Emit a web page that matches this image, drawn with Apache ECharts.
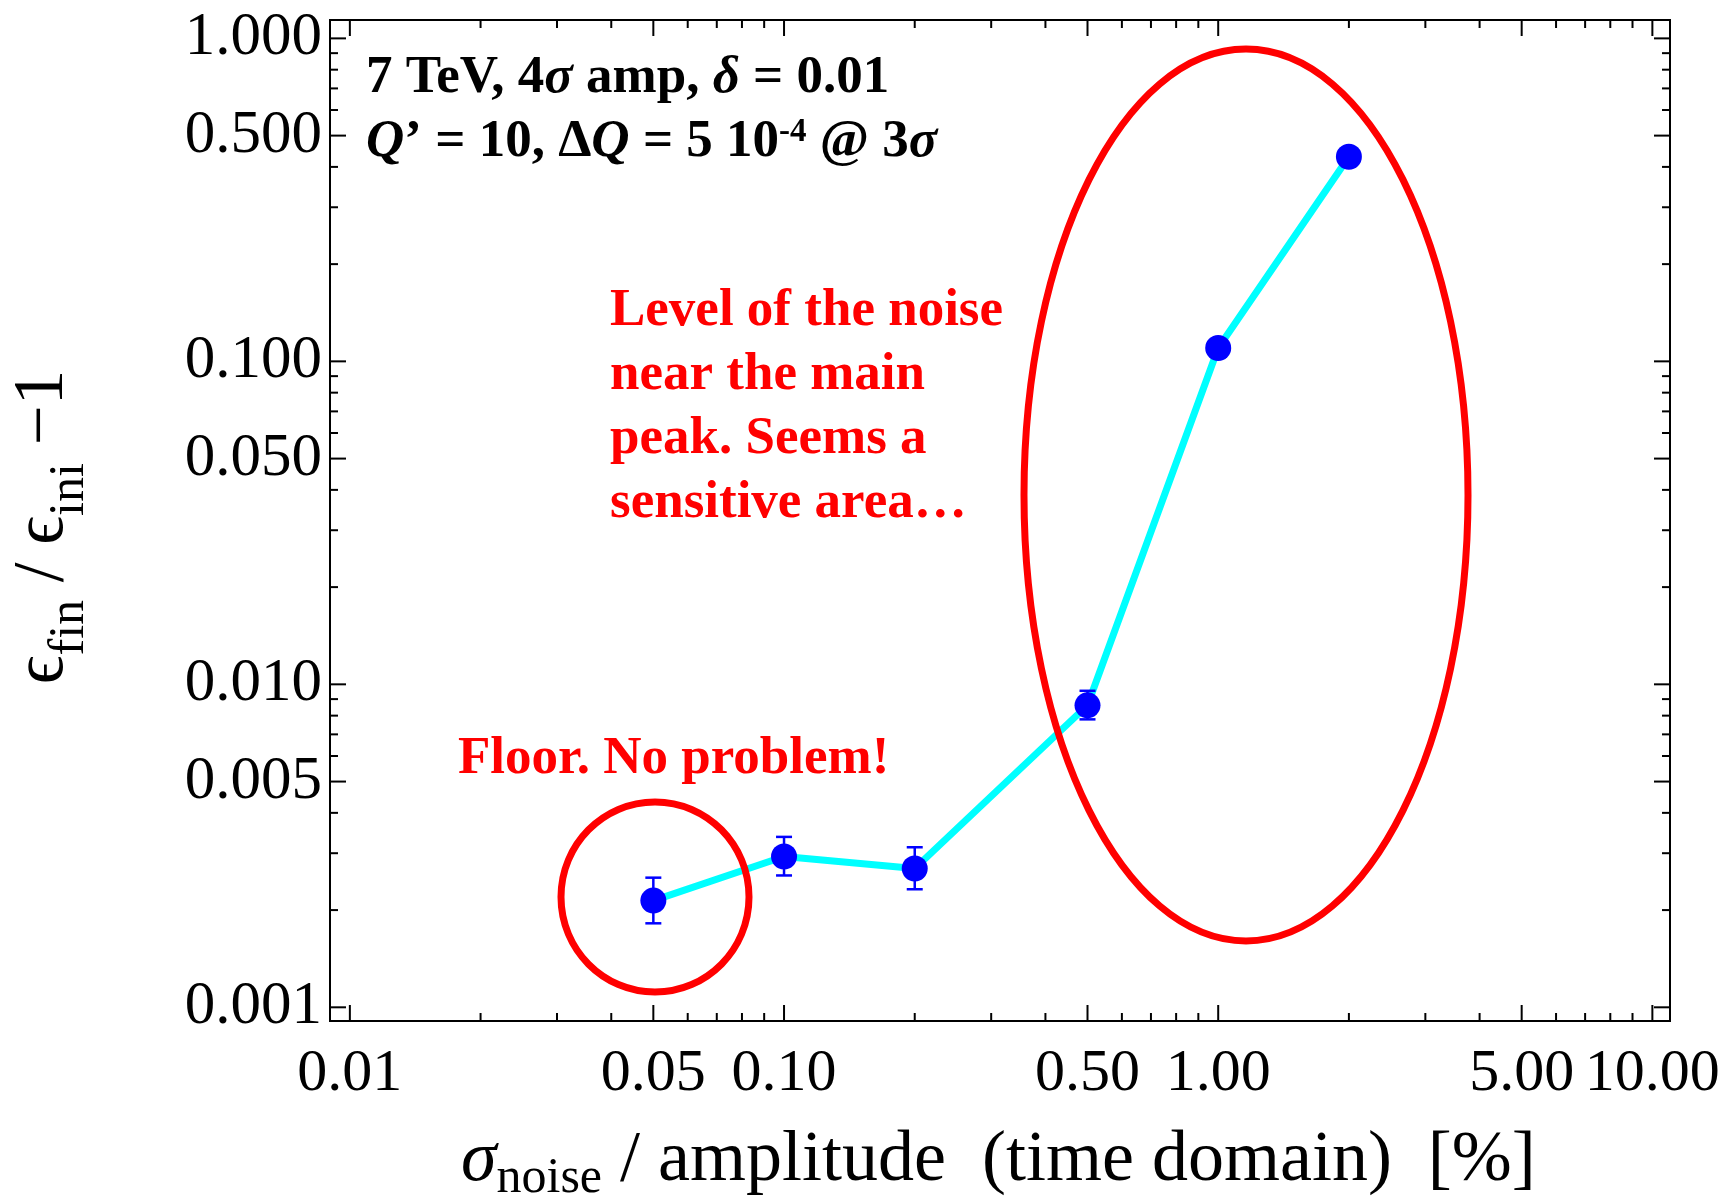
<!DOCTYPE html>
<html>
<head>
<meta charset="utf-8">
<script src="https://cdn.jsdelivr.net/npm/echarts@6/dist/echarts.min.js"></script>
<style>
  html, body { margin: 0; padding: 0; background: #fff; }
  #chart { width: 1736px; height: 1196px; }
</style>
</head>
<body>
<div id="chart"></div>
<script>
  // 数据：噪声水平 vs 发射度增长
  var xData = [0.05, 0.1, 0.2, 0.5, 1.0, 2.0];
  var yData = [0.00214, 0.00293, 0.00269, 0.00861, 0.110, 0.430];
  var yLow = [0.00182, 0.00256, 0.00232, 0.00779, 0.106, 0.415];
  var yHigh = [0.00252, 0.00337, 0.00313, 0.00955, 0.114, 0.445];

  // 坐标轴刻度
  var xMajor = [0.01, 0.05, 0.1, 0.5, 1, 5, 10];
  var xLabels = ['0.01', '0.05', '0.10', '0.50', '1.00', '5.00', '10.00'];
  var xMinor = [0.02, 0.03, 0.04, 0.06, 0.07, 0.08, 0.09, 0.2, 0.3, 0.4, 0.6, 0.7, 0.8, 0.9, 2, 3, 4, 6, 7, 8, 9];
  var yMajor = [0.001, 0.005, 0.01, 0.05, 0.1, 0.5, 1];
  var yLabels = ['0.001', '0.005', '0.010', '0.050', '0.100', '0.500', '1.000'];
  var yMinor = [0.002, 0.003, 0.004, 0.006, 0.007, 0.008, 0.009, 0.02, 0.03, 0.04, 0.06, 0.07, 0.08, 0.09, 0.2, 0.3, 0.4, 0.6, 0.7, 0.8, 0.9];

  var serif = "'Liberation Serif', 'DejaVu Serif', serif";
  var MAJOR = 16, MINOR = 8;

  var xTicks = xMajor.map(function (v) { return [v, 0.01, MAJOR]; })
    .concat(xMinor.map(function (v) { return [v, 0.01, MINOR]; }));
  var yTicks = yMajor.map(function (v) { return [0.1, v, MAJOR]; })
    .concat(yMinor.map(function (v) { return [0.1, v, MINOR]; }));

  var myChart = echarts.init(document.getElementById('chart'));

  var hiddenAxis = {
    axisLine: { show: false },
    axisTick: { show: false },
    axisLabel: { show: false },
    splitLine: { show: false }
  };

  myChart.setOption({
    animation: false,
    backgroundColor: '#fff',
    grid: {
      left: 330, top: 20, right: 66, bottom: 175,
      show: true, borderColor: '#000', borderWidth: 2, backgroundColor: 'transparent'
    },
    xAxis: Object.assign({ type: 'log', logBase: 10, min: 0.009, max: 10.98 }, hiddenAxis),
    yAxis: Object.assign({ type: 'log', logBase: 10, min: 0.000907, max: 1.14 }, hiddenAxis),
    series: [
      {
        // x 轴刻度（上下两边）
        type: 'custom',
        silent: true,
        data: xTicks,
        renderItem: function (params, api) {
          var cs = params.coordSys;
          var px = api.coord([api.value(0), 0.01])[0];
          var len = api.value(2);
          var b = cs.y + cs.height;
          return {
            type: 'group',
            children: [
              { type: 'line', shape: { x1: px, y1: b, x2: px, y2: b - len }, style: { stroke: '#000', lineWidth: 2 } },
              { type: 'line', shape: { x1: px, y1: cs.y, x2: px, y2: cs.y + len }, style: { stroke: '#000', lineWidth: 2 } }
            ]
          };
        }
      },
      {
        // y 轴刻度（左右两边）
        type: 'custom',
        silent: true,
        data: yTicks,
        renderItem: function (params, api) {
          var cs = params.coordSys;
          var py = api.coord([0.1, api.value(1)])[1];
          var len = api.value(2);
          var r = cs.x + cs.width;
          return {
            type: 'group',
            children: [
              { type: 'line', shape: { x1: cs.x, y1: py, x2: cs.x + len, y2: py }, style: { stroke: '#000', lineWidth: 2 } },
              { type: 'line', shape: { x1: r, y1: py, x2: r - len, y2: py }, style: { stroke: '#000', lineWidth: 2 } }
            ]
          };
        }
      },
      {
        // x 轴标签
        type: 'custom',
        silent: true,
        data: xMajor.map(function (v) { return [v, 0.01]; }),
        renderItem: function (params, api) {
          var cs = params.coordSys;
          var px = api.coord([api.value(0), 0.01])[0];
          return {
            type: 'text',
            x: px, y: cs.y + cs.height + 53,
            style: {
              text: xLabels[params.dataIndex], fill: '#000',
              font: '60px ' + serif, align: 'center', verticalAlign: 'middle'
            }
          };
        }
      },
      {
        // y 轴标签
        type: 'custom',
        silent: true,
        data: yMajor.map(function (v) { return [0.1, v]; }),
        renderItem: function (params, api) {
          var cs = params.coordSys;
          var py = api.coord([0.1, api.value(1)])[1];
          return {
            type: 'text',
            x: cs.x - 8, y: py,
            style: {
              text: yLabels[params.dataIndex], fill: '#000',
              font: '61px ' + serif, align: 'right', verticalAlign: 'middle'
            }
          };
        }
      },
      {
        type: 'line',
        data: xData.map(function (x, i) { return [x, yData[i]]; }),
        symbol: 'none',
        lineStyle: { color: '#00ffff', width: 7 },
        z: 2
      },
      {
        // 误差棒
        type: 'custom',
        data: xData.map(function (x, i) { return [x, yLow[i], yHigh[i]]; }),
        renderItem: function (params, api) {
          var lo = api.coord([api.value(0), api.value(1)]);
          var hi = api.coord([api.value(0), api.value(2)]);
          var w = 8;
          var st = { stroke: '#0000ff', lineWidth: 2.5 };
          return {
            type: 'group',
            children: [
              { type: 'line', shape: { x1: lo[0], y1: lo[1], x2: hi[0], y2: hi[1] }, style: st },
              { type: 'line', shape: { x1: lo[0] - w, y1: lo[1], x2: lo[0] + w, y2: lo[1] }, style: st },
              { type: 'line', shape: { x1: hi[0] - w, y1: hi[1], x2: hi[0] + w, y2: hi[1] }, style: st }
            ]
          };
        },
        z: 3
      },
      {
        type: 'scatter',
        data: xData.map(function (x, i) { return [x, yData[i]]; }),
        symbol: 'circle',
        symbolSize: 26,
        itemStyle: { color: '#0000ff', opacity: 1 },
        z: 4
      }
    ],
    graphic: [
      {
        type: 'text', left: 366, top: 52, z: 10,
        style: {
          text: '{b|7 TeV, 4}{i|σ}{b| amp, }{i|δ}{b| = 0.01}',
          fill: '#000',
          rich: {
            b: { fontFamily: serif, fontWeight: 'bold', fontSize: 53, fill: '#000' },
            i: { fontFamily: serif, fontWeight: 'bold', fontStyle: 'italic', fontSize: 53, fill: '#000' }
          }
        }
      },
      {
        type: 'text', left: 366, top: 116, z: 10,
        style: {
          text: '{i|Q}{b|’ = 10, Δ}{i|Q}{b| = 5 10}{sup|-4}{b| @ 3}{i|σ}',
          fill: '#000',
          rich: {
            b: { fontFamily: serif, fontWeight: 'bold', fontSize: 53, lineHeight: 57, verticalAlign: 'top', fill: '#000' },
            i: { fontFamily: serif, fontWeight: 'bold', fontStyle: 'italic', fontSize: 53, lineHeight: 57, verticalAlign: 'top', fill: '#000' },
            sup: { fontFamily: serif, fontWeight: 'bold', fontSize: 33, lineHeight: 57, verticalAlign: 'top', fill: '#000' }
          }
        }
      },
      {
        type: 'text', x: 610, y: 279, z: 10,
        style: {
          text: 'Level of the noise\nnear the main\npeak. Seems a\nsensitive area…',
          font: 'bold 53px ' + serif, fill: '#ff0000', lineHeight: 64, verticalAlign: 'top'
        }
      },
      {
        type: 'text', x: 458, y: 759, z: 10,
        style: {
          text: 'Floor. No problem!',
          font: 'bold 53px ' + serif, fill: '#ff0000', verticalAlign: 'middle'
        }
      },
      {
        type: 'ellipse', z: 10,
        shape: { cx: 655, cy: 897, rx: 94, ry: 95 },
        style: { fill: 'none', stroke: '#ff0000', lineWidth: 7 }
      },
      {
        type: 'ellipse', z: 10,
        shape: { cx: 1246, cy: 495, rx: 222, ry: 446 },
        style: { fill: 'none', stroke: '#ff0000', lineWidth: 7 }
      },
      {
        // x 轴标题
        type: 'text', left: 461, top: 1125, z: 10,
        style: {
          text: '{i|σ}{s|noise}{n| / amplitude  (time domain)  [%]}',
          rich: {
            i: { fontFamily: serif, fontStyle: 'italic', fontSize: 72, lineHeight: 79, verticalAlign: 'top', fill: '#000' },
            n: { fontFamily: serif, fontSize: 72, lineHeight: 79, verticalAlign: 'top', fill: '#000' },
            s: { fontFamily: serif, fontSize: 50, lineHeight: 79, verticalAlign: 'bottom', fill: '#000' }
          }
        }
      },
      {
        // y 轴标题
        type: 'text', x: 51, y: 527, rotation: Math.PI / 2, z: 10,
        style: {
          text: '{n|ϵ}{s|fin}{n| / ϵ}{s|ini}{n| −1}',
          align: 'center', verticalAlign: 'middle',
          rich: {
            n: { fontFamily: serif, fontSize: 71, lineHeight: 87, verticalAlign: 'top', fill: '#000' },
            s: { fontFamily: serif, fontSize: 50, lineHeight: 87, verticalAlign: 'bottom', fill: '#000' }
          }
        }
      }
    ]
  });
</script>
</body>
</html>
